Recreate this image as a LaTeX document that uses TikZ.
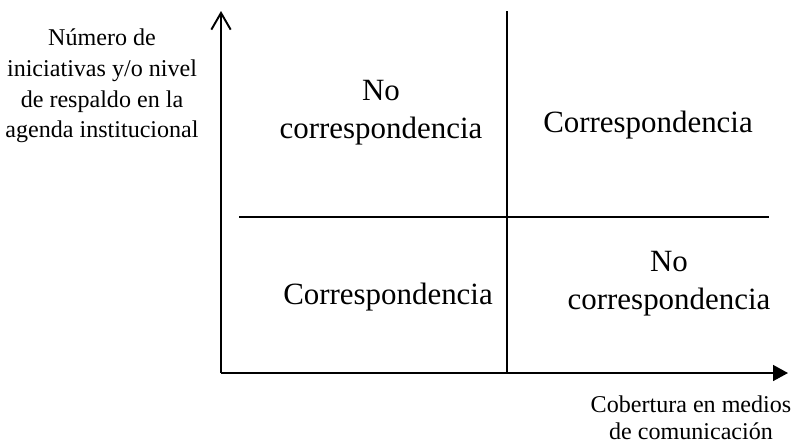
\documentclass[tikz,border=0pt]{standalone}
\usepackage{fontspec}
\setmainfont{Liberation Serif}
\usepackage{tikz}
\usetikzlibrary{arrows.meta,positioning,calc}
\tikzset{
  axisline/.style={line width=1.1pt, black},
  divline/.style={line width=1.1pt, black},
  quadtext/.style={align=center, inner sep=0pt,
    font=\fontsize{17.6}{21.6}\selectfont},
  axislabel/.style={align=center, inner sep=0pt,
    font=\fontsize{13.7}{17.4}\selectfont}
}

\begin{document}
\begin{tikzpicture}[x=0.02cm, y=-0.02cm]
  \useasboundingbox (0,0) rectangle (793,444);

  % Axes
  \coordinate (origin) at (221,373);
  \coordinate (ytip)   at (221,11);
  \coordinate (xtip)   at (788,373);
  \draw[axisline, -{Straight Barb[length=9.5pt, width=11pt]}] (origin) -- (ytip);
  \draw[axisline, -{Triangle[length=8.5pt, width=9pt]}] (origin) -- (xtip);

  % Dividers
  \coordinate (vtop)   at (507,11);
  \coordinate (vbot)   at (507,373);
  \coordinate (hleft)  at (239,217);
  \coordinate (hright) at (769,217);
  \draw[divline] (vtop) -- (vbot);
  \draw[divline] (hleft) -- (hright);

  % Axis labels
  \node[axislabel] (ylab) at (102,86) {Número de\\iniciativas y/o nivel\\de respaldo en la\\agenda institucional};
  \node[axislabel, font=\fontsize{13.7}{15.2}\selectfont] (xlab) at (691,418) {Cobertura en medios\\de comunicación};

  % Quadrants
  \node[quadtext] (qul) at (381,113) {No\\correspondencia};
  \node[quadtext] (qur) at (648,125) {Correspondencia};
  \node[quadtext] (qll) at (388,297) {Correspondencia};
  \node[quadtext] (qlr) at (669,284) {No\\correspondencia};
\end{tikzpicture}
\end{document}
